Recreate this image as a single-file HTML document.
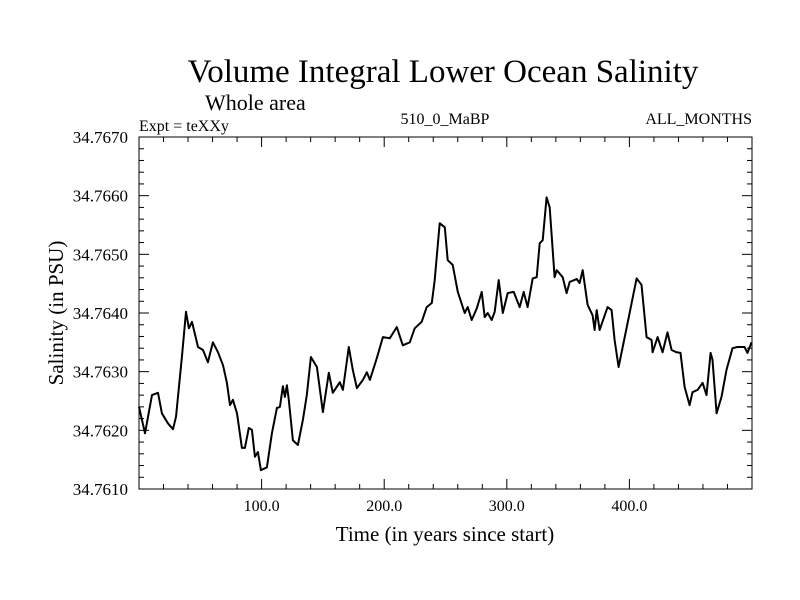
<!DOCTYPE html>
<html><head><meta charset="utf-8"><style>
body{margin:0;background:#fff}
svg{display:block;font-family:"Liberation Serif",serif}
</style></head><body>
<svg id="chart" width="800" height="600" viewBox="0 0 800 600">
<rect width="800" height="600" fill="#fff"/>
<text x="443" y="82" font-size="33" text-anchor="middle">Volume Integral Lower Ocean Salinity</text>
<text x="205" y="110" font-size="22">Whole area</text>
<text x="139" y="131" font-size="16">Expt = teXXy</text>
<text x="445" y="124" font-size="16" text-anchor="middle">510_0_MaBP</text>
<text x="752" y="124" font-size="16" text-anchor="end">ALL_MONTHS</text>
<text x="445" y="541" font-size="21" text-anchor="middle">Time (in years since start)</text>
<text x="0" y="0" font-size="21" text-anchor="middle" transform="translate(63,313) rotate(-90)">Salinity (in PSU)</text>
<g id="axes"></g>
<path id="series" fill="none" stroke="#000" stroke-width="2" stroke-linejoin="round"/>
<rect x="139" y="137" width="613" height="352" fill="none" stroke="#000" stroke-width="1"/>
</svg>
<script>
const years=[0,4.9,10.6,15.5,18.7,23.6,27.7,30.2,35.0,38.3,40.7,43.2,48.1,52.2,56.2,60.3,64.4,68.5,71.7,74.2,76.6,79.9,83.9,86.4,89.6,92.1,94.5,97.0,99.4,104.3,108.4,112.5,114.9,117.4,119.0,120.6,122.2,125.5,129.6,133.7,136.9,140.2,145.1,150.0,154.8,158.1,163.8,166.3,171.1,174.4,177.7,182.6,185.8,188.3,194.0,198.9,204.6,210.3,215.2,220.9,224.9,230.6,234.7,238.8,241.2,245.3,249.4,251.8,255.9,260.0,265.7,268.1,271.4,275.5,279.5,282.0,284.4,287.7,290.1,293.4,296.7,300.7,305.6,310.5,313.8,317.0,321.1,324.4,326.8,329.3,332.5,335.0,339.0,340.7,345.6,348.8,351.3,357.0,359.4,361.9,365.9,370.0,371.6,373.3,375.7,382.2,385.5,387.9,391.2,394.5,398.5,405.9,409.9,414.0,418.1,418.9,423.0,427.1,431.1,434.4,438.5,441.7,445.0,449.1,451.5,455.6,459.7,462.9,466.2,467.8,471.1,475.1,479.2,484.1,488.2,493.9,496.3,499.6];
const salinity=[34.76240,34.76195,34.76260,34.76264,34.76229,34.76212,34.76202,34.76223,34.76325,34.76402,34.76374,34.76385,34.76342,34.76337,34.76316,34.76350,34.76333,34.76311,34.76281,34.76243,34.76252,34.76229,34.76170,34.76170,34.76204,34.76201,34.76155,34.76163,34.76132,34.76137,34.76195,34.76238,34.76240,34.76275,34.76257,34.76277,34.76252,34.76183,34.76175,34.76218,34.76260,34.76325,34.76308,34.76231,34.76298,34.76264,34.76282,34.76269,34.76342,34.76303,34.76272,34.76286,34.76299,34.76286,34.76323,34.76359,34.76357,34.76376,34.76345,34.76350,34.76374,34.76385,34.76410,34.76417,34.76456,34.76553,34.76546,34.76490,34.76482,34.76436,34.76400,34.76410,34.76388,34.76408,34.76436,34.76393,34.76400,34.76388,34.76402,34.76456,34.76400,34.76434,34.76436,34.76410,34.76436,34.76410,34.76459,34.76461,34.76519,34.76524,34.76597,34.76580,34.76461,34.76473,34.76461,34.76434,34.76453,34.76458,34.76451,34.76473,34.76414,34.76396,34.76371,34.76405,34.76371,34.76410,34.76405,34.76354,34.76308,34.76342,34.76383,34.76459,34.76448,34.76359,34.76354,34.76333,34.76359,34.76333,34.76367,34.76337,34.76333,34.76332,34.76274,34.76243,34.76265,34.76269,34.76281,34.76260,34.76332,34.76320,34.76229,34.76257,34.76303,34.76340,34.76342,34.76342,34.76332,34.76350];
const xTicks=[100,200,300,400];
const xTickLabels=["100.0","200.0","300.0","400.0"];
const yTicks=[34.761,34.762,34.763,34.764,34.765,34.766,34.767];
const yTickLabels=["34.7610","34.7620","34.7630","34.7640","34.7650","34.7660","34.7670"];

const X0=139,X1=752,Y0=489,Y1=137,XMIN=0,XMAX=500,YMIN=34.761,YMAX=34.767;
const sx=v=>X0+(v-XMIN)/(XMAX-XMIN)*(X1-X0);
const sy=v=>Y0-(v-YMIN)/(YMAX-YMIN)*(Y0-Y1);
const NS="http://www.w3.org/2000/svg";
const axes=document.getElementById('axes');
function line(x1,y1,x2,y2){const l=document.createElementNS(NS,'line');l.setAttribute('x1',x1);l.setAttribute('y1',y1);l.setAttribute('x2',x2);l.setAttribute('y2',y2);l.setAttribute('stroke','#000');l.setAttribute('stroke-width','1');axes.appendChild(l);return l;}
for(let v=20;v<XMAX;v+=20){
  const major=v%100===0, len=major?10:5, x=sx(v);
  const a=line(x,Y0,x,Y0-len);
  
  
  const b=line(x,Y1,x,Y1+len);
  
  
}
xTicks.forEach((v,i)=>{
  const t=document.createElementNS(NS,'text');
  t.setAttribute('x',sx(v));t.setAttribute('y',511);t.setAttribute('font-size','16');t.setAttribute('text-anchor','middle');
  t.textContent=xTickLabels[i];
  
  
  axes.appendChild(t);
});
for(let k=1;k<30;k++){
  const v=YMIN+k*0.0002, major=k%5===0, len=major?10:5, y=sy(v);
  const a=line(X0,y,X0+len,y);
  
  
  const b=line(X1,y,X1-len,y);
  
  
}
yTicks.forEach((v,i)=>{
  const t=document.createElementNS(NS,'text');
  t.setAttribute('x',128);t.setAttribute('y',sy(v)+6);t.setAttribute('font-size','17');t.setAttribute('text-anchor','end');
  t.textContent=yTickLabels[i];
  
  
  axes.appendChild(t);
});
document.getElementById('series').setAttribute('d',years.map((y,i)=>(i?'L':'M')+sx(y).toFixed(1)+','+sy(salinity[i]).toFixed(1)).join(''));
</script>
</body></html>
